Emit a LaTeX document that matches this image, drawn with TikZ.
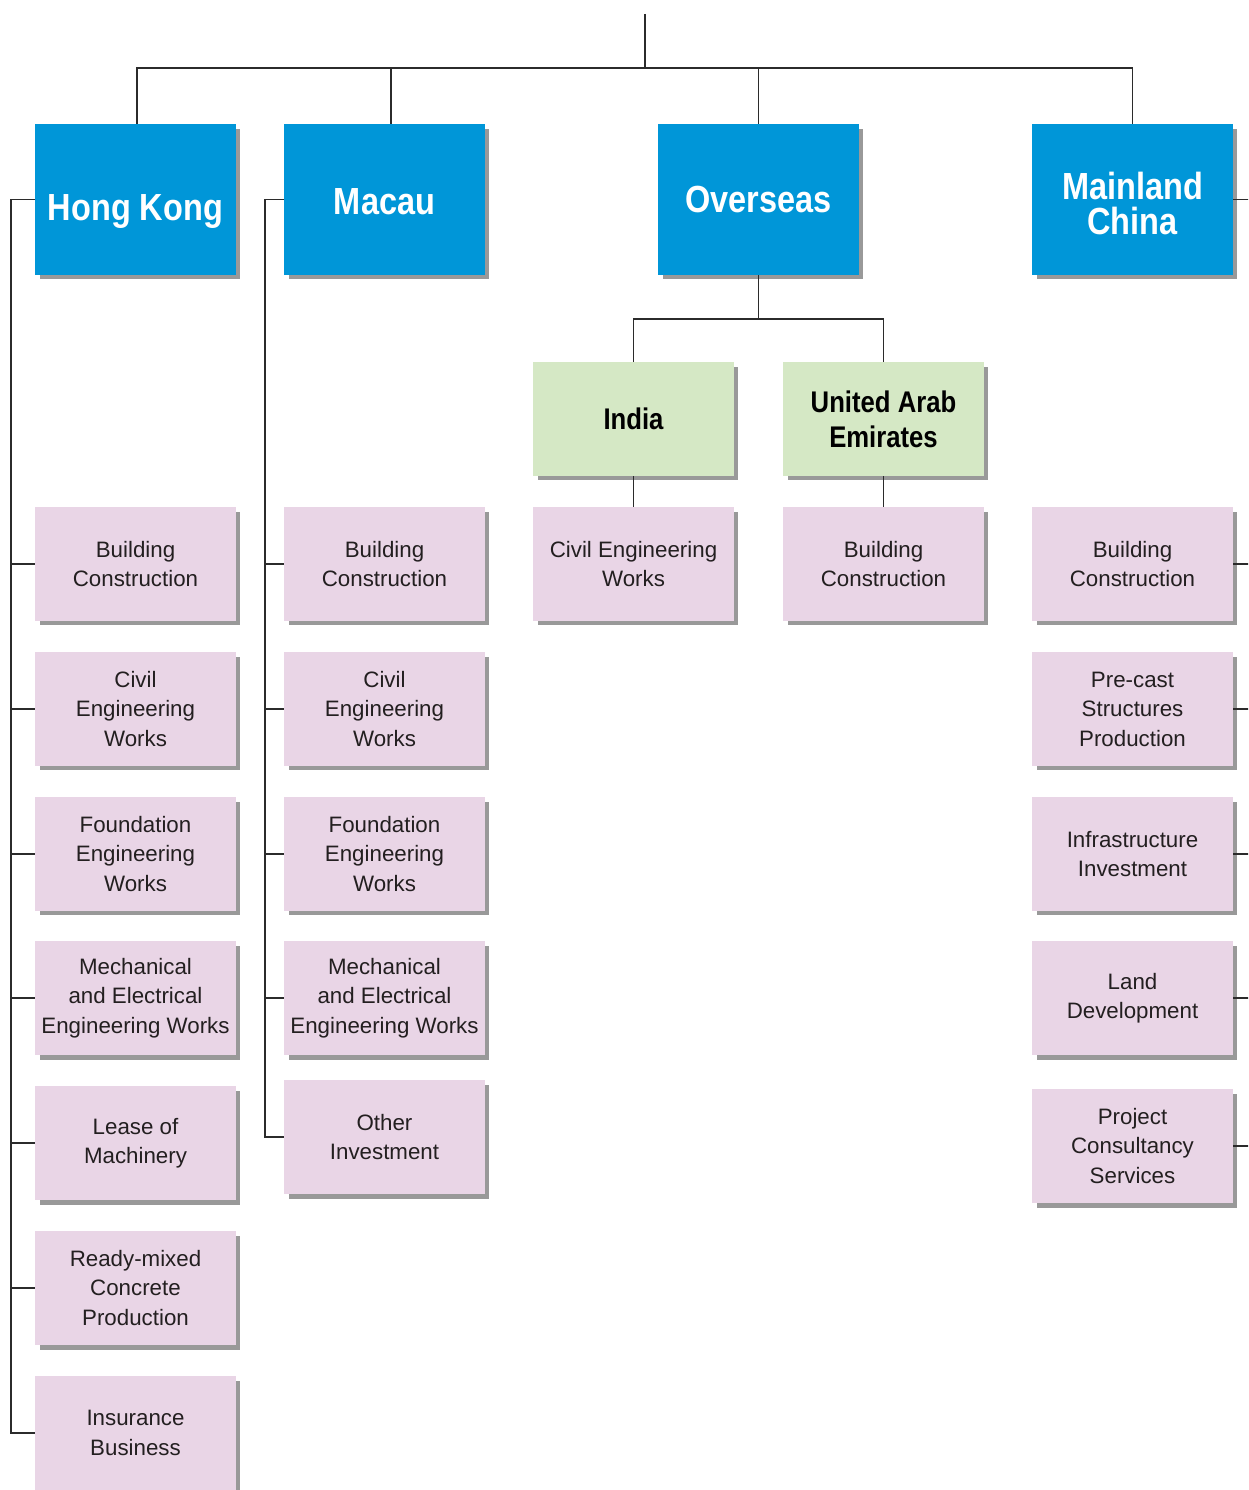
\documentclass[tikz,border=0pt]{standalone}
\usepackage{fontspec}
\setmainfont{Liberation Sans}
\newfontfamily\headfont[FakeStretch=0.86]{Liberation Sans}
\usetikzlibrary{shadows,positioning}

\definecolor{regionblue}{HTML}{0096D8}
\definecolor{countrygreen}{HTML}{D5E8C5}
\definecolor{businesspink}{HTML}{E9D5E6}
\definecolor{linkgrey}{HTML}{2B2B2B}
\definecolor{textblack}{HTML}{231F20}

\begin{document}
\begin{tikzpicture}[x=0.02cm, y=-0.02cm,
                   every node/.style = {shape=rectangle, inner sep=0pt,
                   align=center},
                   boxshadow/.style={drop shadow={shadow xshift=0.09cm,
                     shadow yshift=-0.09cm, fill=black, opacity=0.4}},
                   region/.style={boxshadow, fill=regionblue, text=white,
                     minimum width=4.02cm, minimum height=3.02cm,
                     font=\headfont\bfseries\fontsize{21.5}{20}\selectfont},
                   country/.style={boxshadow, fill=countrygreen, text=black,
                     minimum width=4.02cm, minimum height=2.28cm,
                     font=\headfont\bfseries\fontsize{17}{20}\selectfont},
                   business/.style={boxshadow, fill=businesspink, text=textblack,
                     minimum width=4.02cm, minimum height=2.28cm,
                     font=\fontsize{12.7}{16.8}\selectfont},
                   link/.style={draw=linkgrey, line width=1.1pt}]
  \useasboundingbox (0,0) rectangle (1248,1490);
  \clip (0,0) rectangle (1248,1490);

  % regions
  \node[region, text height=0.85cm, text depth=0pt] (hk) at (135.5,199.5) {Hong Kong};
  \node[region, text height=0.62cm] (mc) at (384.5,199.5) {Macau};
  \node[region] (os) at (758.5,199.5) {Overseas};
  \node[region, text height=1.5cm, text depth=0.1cm] (ml) at (1132.5,199.5) {Mainland\\China};

  % overseas countries
  \node[country] (in) at (633.5,419) {India};
  \node[country] (ae) at (883.5,419) {United Arab\\Emirates};
  \node[business] (ina) at (633.5,564) {Civil Engineering\\Works};
  \node[business] (aea) at (883.5,564) {Building\\Construction};

  % Hong Kong businesses
  \foreach \name/\ypos/\txt in {hka/564/{Building\\Construction},
      hkb/709/{Civil\\Engineering\\Works},
      hkc/854/{Foundation\\Engineering\\Works},
      hkd/998/{Mechanical\\and Electrical\\Engineering Works},
      hke/1143/{Lease of\\Machinery},
      hkf/1288/{Ready-mixed\\Concrete\\Production},
      hkg/1433/{Insurance\\Business}}
    \node[business] (\name) at (135.5,\ypos) {\txt};

  % Macau businesses
  \foreach \name/\ypos/\txt in {mca/564/{Building\\Construction},
      mcb/709/{Civil\\Engineering\\Works},
      mcc/854/{Foundation\\Engineering\\Works},
      mcd/998/{Mechanical\\and Electrical\\Engineering Works},
      mce/1137/{Other\\Investment}}
    \node[business] (\name) at (384.5,\ypos) {\txt};

  % Mainland businesses
  \foreach \name/\ypos/\txt in {mla/564/{Building\\Construction},
      mlb/709/{Pre-cast\\Structures\\Production},
      mlc/854/{Infrastructure\\Investment},
      mld/998/{Land\\Development},
      mle/1146/{Project\\Consultancy\\Services}}
    \node[business] (\name) at (1132.5,\ypos) {\txt};

  % top links
  \coordinate (root) at (645,14);
  \coordinate (bar) at (645,68);
  \draw[link] (root) -- (bar);
  \draw[link] ([xshift=0.03cm]hk.north) |- (bar) -| (ml.north);
  \draw[link] ([xshift=0.13cm]mc.north) -- ([xshift=0.13cm]mc.north |- bar);
  \draw[link] (os.north) -- (os.north |- bar);

  % overseas links
  \coordinate (split) at (758.5,319);
  \draw[link] (os.south) -- (split);
  \draw[link] (in.north) |- (split) -| (ae.north);
  \draw[link] (in) -- (ina);
  \draw[link] (ae) -- (aea);

  % side rails
  \coordinate (hkrail) at (11,1433);
  \coordinate (mcrail) at (265,1137);
  \coordinate (mlrail) at (1262,1146);
  \draw[link] (hk.west) -| (hkrail) -- (hkg.west);
  \draw[link] (mc.west) -| (mcrail) -- (mce.west);
  \draw[link] (ml.east) -| (mlrail) -- (mle.east);
  \foreach \n in {hka,hkb,hkc,hkd,hke,hkf}
    \draw[link] (\n.west) -- (\n.west -| hkrail);
  \foreach \n in {mca,mcb,mcc,mcd}
    \draw[link] (\n.west) -- (\n.west -| mcrail);
  \foreach \n in {mla,mlb,mlc,mld}
    \draw[link] (\n.east) -- (\n.east -| mlrail);
\end{tikzpicture}
\end{document}
